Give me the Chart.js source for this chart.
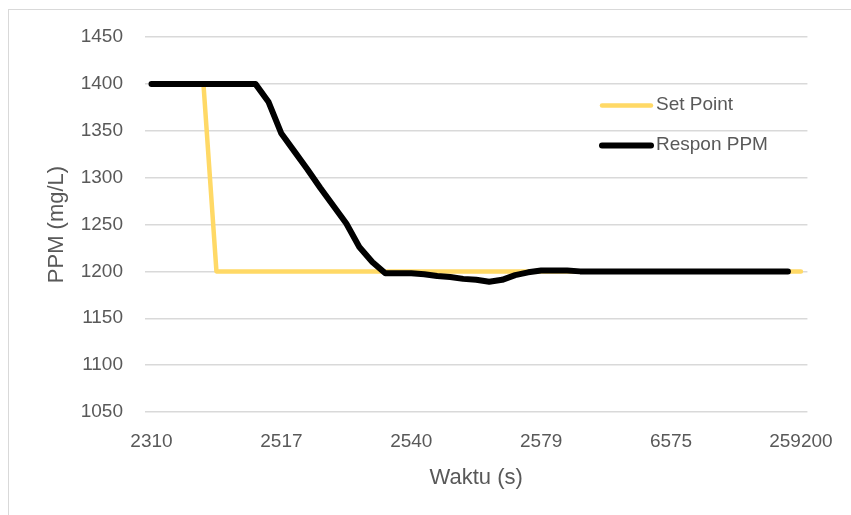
<!DOCTYPE html>
<html>
<head>
<meta charset="utf-8">
<script src="https://cdn.jsdelivr.net/npm/chart.js@4.4.1/dist/chart.umd.min.js"></script>
<style>
  html, body { margin: 0; padding: 0; background: #fff; overflow: hidden; }
  #frame { position: absolute; left: 8px; top: 9px; width: 1000px; height: 700px; border: 1.5px solid #d9d9d9; }
  #chart { position: absolute; left: 0; top: 0; }
</style>
</head>
<body>
<div id="frame"></div>
<canvas id="chart" width="851" height="515"></canvas>
<script>
// x axis shows every 10th sample time
const tickLabels = ['2310', '2517', '2540', '2579', '6575', '259200'];
const setPoint = [
  1400, 1400, 1400, 1400, 1400,
  1200, 1200, 1200, 1200, 1200, 1200, 1200, 1200, 1200, 1200,
  1200, 1200, 1200, 1200, 1200, 1200, 1200, 1200, 1200, 1200,
  1200, 1200, 1200, 1200, 1200, 1200, 1200, 1200, 1200, 1200,
  1200, 1200, 1200, 1200, 1200, 1200, 1200, 1200, 1200, 1200,
  1200, 1200, 1200, 1200, 1200, 1200
];
const responPPM = [
  1400, 1400, 1400, 1400, 1400, 1400, 1400, 1400, 1400,
  1381, 1347, 1328, 1309, 1289, 1270, 1251, 1226, 1210, 1198,
  1198, 1198, 1197, 1195, 1194, 1192, 1191, 1189, 1191, 1196,
  1199, 1201, 1201, 1201,
  1200, 1200, 1200, 1200, 1200, 1200, 1200, 1200, 1200, 1200,
  1200, 1200, 1200, 1200, 1200, 1200, 1200
];
const categories = setPoint.map((v, i) => (i % 10 === 0 ? tickLabels[i / 10] : ''));

const FONT = 'Liberation Sans';
const GREY = '#595959';

// excel style legend sitting inside the plot
const insideLegend = {
  id: 'insideLegend',
  afterDraw(chart) {
    const ctx = chart.ctx;
    const rows = [chart.data.datasets[0], chart.data.datasets[1]];
    ctx.save();
    rows.forEach((ds, i) => {
      const y = 105.5 + i * 40;
      ctx.strokeStyle = ds.borderColor;
      ctx.lineWidth = ds.borderWidth;
      ctx.lineCap = 'round';
      ctx.beginPath();
      ctx.moveTo(602, y);
      ctx.lineTo(651, y);
      ctx.stroke();
      ctx.fillStyle = GREY;
      ctx.font = '19px ' + FONT;
      ctx.textBaseline = 'middle';
      ctx.fillText(ds.label, 656, y - 1);
    });
    ctx.restore();
  }
};

const ctx = document.getElementById('chart').getContext('2d');
new Chart(ctx, {
  type: 'line',
  data: {
    labels: categories,
    datasets: [
      {
        label: 'Set Point',
        data: setPoint,
        borderColor: '#ffd966',
        borderWidth: 4.5,
        order: 1,
      },
      {
        label: 'Respon PPM',
        data: responPPM,
        borderColor: '#000000',
        borderWidth: 6,
        order: 0,
      },
    ],
  },
  options: {
    responsive: false,
    animation: false,
    elements: {
      point: { radius: 0 },
      line: { tension: 0, borderCapStyle: 'round', borderJoinStyle: 'round' },
    },
    layout: { padding: { top: 37, right: 38, bottom: 0, left: 0 } },
    plugins: {
      legend: { display: false },
      tooltip: { enabled: false },
    },
    scales: {
      x: {
        offset: true,
        grid: { display: false, drawTicks: false },
        border: { display: false },
        ticks: {
          autoSkip: false,
          maxRotation: 0,
          padding: 18,
          color: GREY,
          font: { family: FONT, size: 19 },
          callback: function (v) { return this.getLabelForValue(v) || null; },
        },
        title: {
          display: true,
          text: 'Waktu (s)',
          color: GREY,
          font: { family: FONT, size: 22 },
          padding: { top: 0, bottom: 24 },
        },
        afterFit(scale) { scale.height = 103; },
      },
      y: {
        min: 1050,
        max: 1450,
        grid: { color: '#d9d9d9', lineWidth: 1.5, drawTicks: false },
        border: { display: false },
        ticks: {
          stepSize: 50,
          padding: 22,
          color: GREY,
          font: { family: FONT, size: 19 },
          callback: (v) => String(v),
        },
        title: {
          display: true,
          text: 'PPM (mg/L)',
          color: GREY,
          font: { family: FONT, size: 22 },
          padding: { top: 44, bottom: 0 },
        },
        afterFit(scale) { scale.width = 145; },
      },
    },
  },
  plugins: [insideLegend],
});
</script>
</body>
</html>
